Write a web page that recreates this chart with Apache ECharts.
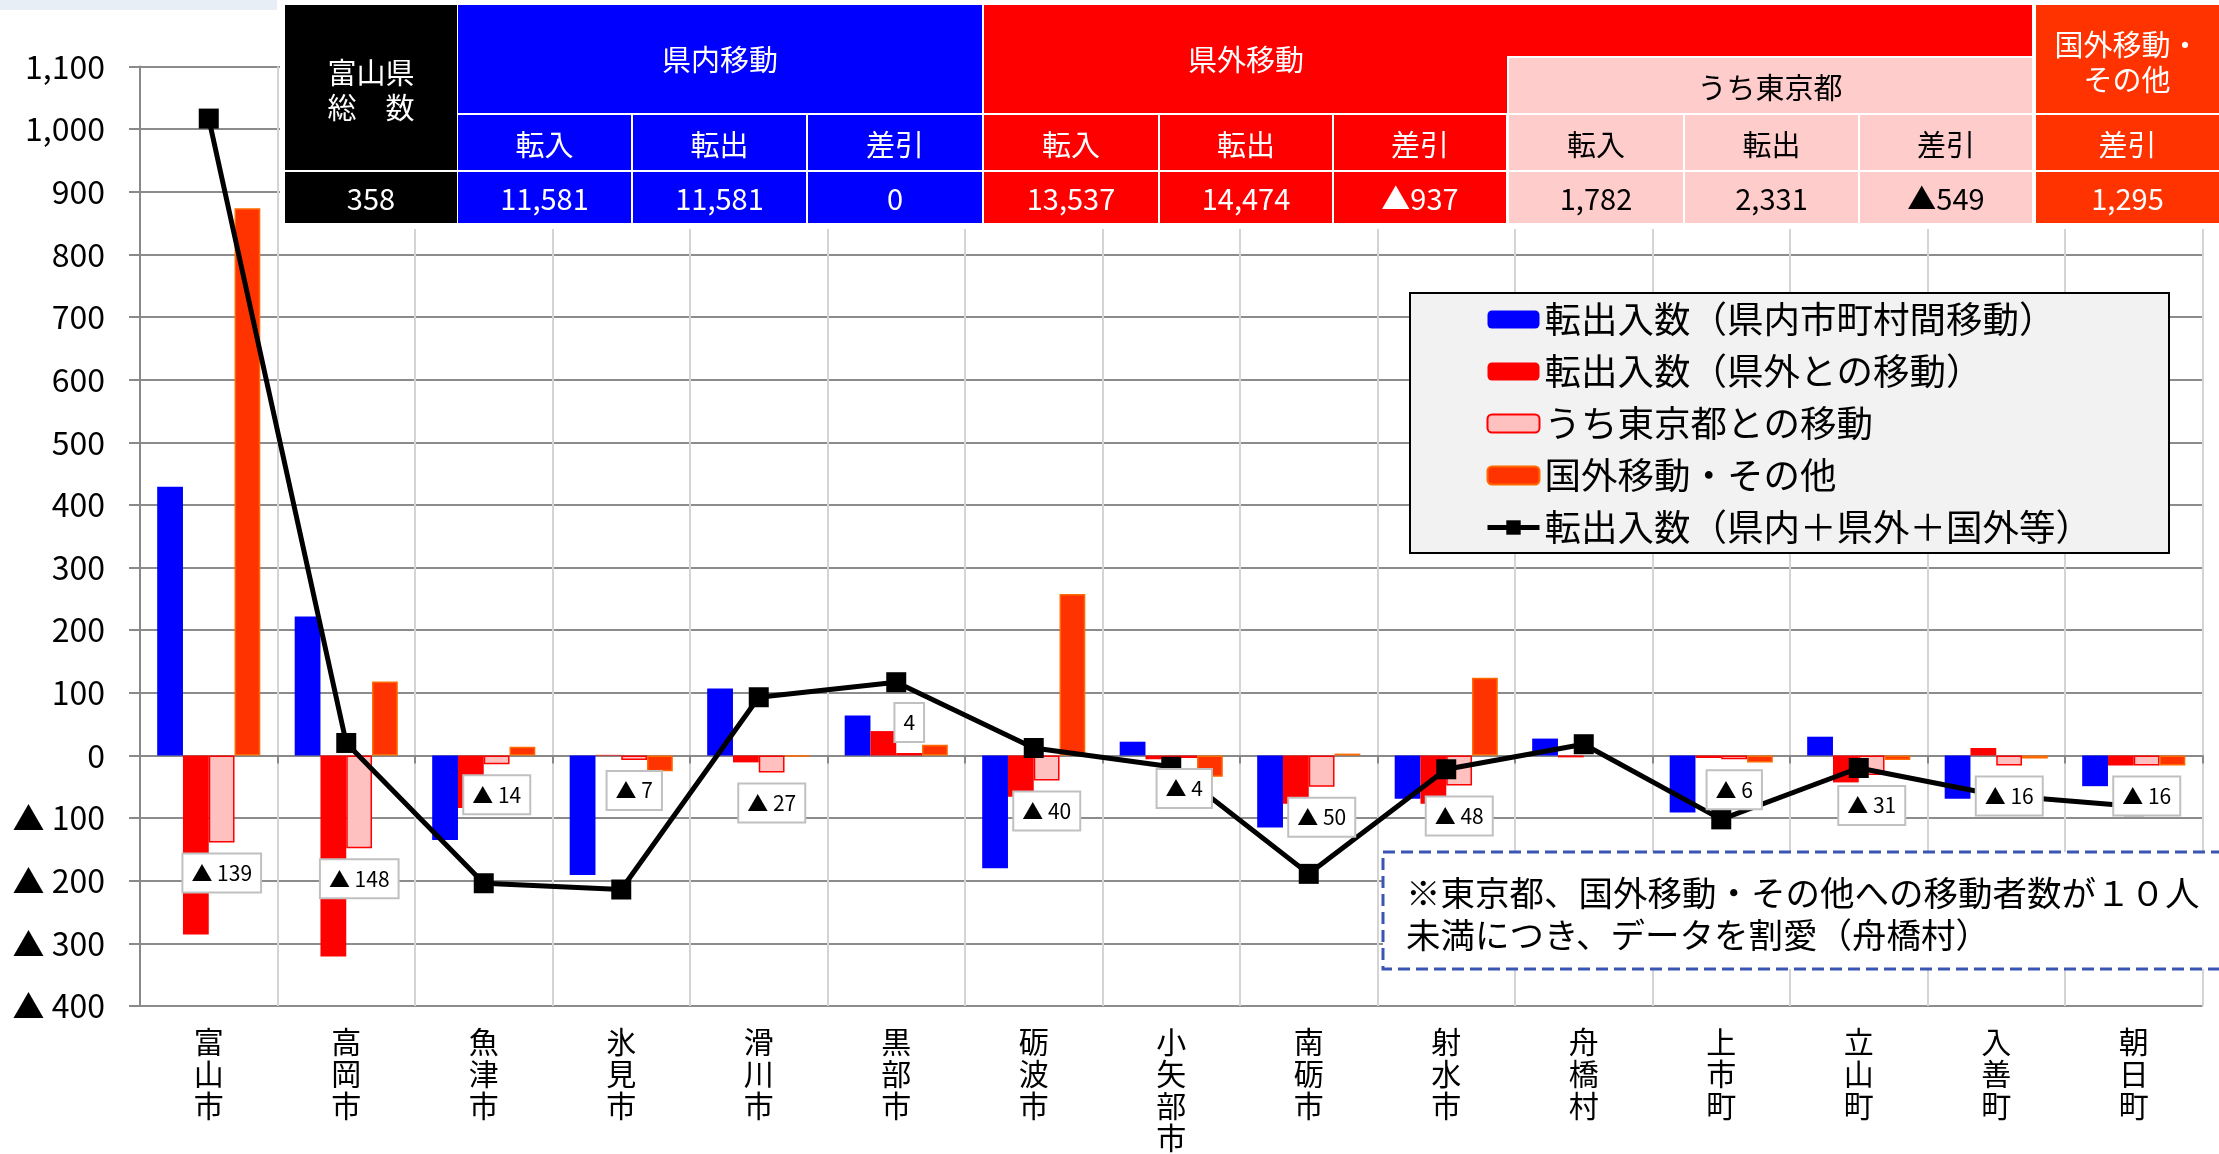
<!DOCTYPE html>
<html>
<head>
<meta charset="utf-8">
<script src="https://cdn.jsdelivr.net/npm/echarts@6/dist/echarts.min.js"></script>
<style>
  html, body { margin: 0; padding: 0; background: #fff; }
  #chart { width: 2219px; height: 1154px; }
</style>
</head>
<body>
<div id="chart"></div>
<script>
// 市町村
let cityNames = ['富山市', '高岡市', '魚津市', '氷見市', '滑川市', '黒部市', '砺波市', '小矢部市',
  '南砺市', '射水市', '舟橋村', '上市町', '立山町', '入善町', '朝日町']
// 転出入数（県内市町村間移動）
let inPref = [429, 222, -135, -191, 107, 64, -180, 22, -115, -69, 27, -91, 30, -69, -49]
// 転出入数（県外との移動）
let outPref = [-286, -321, -84, 1, -11, 39, -66, -6, -77, -77, -3, -4, -43, 12, -16]
// うち東京都との移動（舟橋村は割愛）
let tokyo = [-139, -148, -14, -7, -27, 4, -40, -4, -50, -48, null, -6, -31, -16, -16]
// 国外移動・その他（舟橋村は割愛）
let abroad = [874, 118, 14, -25, -2, 17, 258, -34, 3, 124, null, -11, -7, -5, -16]
// 転出入数（県内＋県外＋国外等）
let total = [1017, 20, -204, -214, 93, 117, 12, -18, -189, -22, 18, -102, -20, -63, -81]

// 上の表
let tableSubHeads = ['転入', '転出', '差引', '転入', '転出', '差引', '転入', '転出', '差引', '差引']
let tableValues = ['358', '11,581', '11,581', '0', '13,537', '14,474', '▲937', '1,782', '2,331', '▲549', '1,295']

let seriesNames = ['転出入数（県内市町村間移動）', '転出入数（県外との移動）', 'うち東京都との移動',
  '国外移動・その他', '転出入数（県内＋県外＋国外等）']
let noteText = '※東京都、国外移動・その他への移動者数が１０人\n未満につき、データを割愛（舟橋村）'

const FONT = '"Noto Sans CJK JP", "Noto Sans", sans-serif'
let myChart = echarts.init(document.getElementById('chart'))

function fmtTri(v) {
  if (v < 0) return '▲ ' + (-v)
  return v.toLocaleString('en-US')
}

// 表のセル
function rect(x, y, w, h, fill, z) {
  return { type: 'rect', z: z || 20, silent: true, shape: { x: x, y: y, width: w, height: h }, style: { fill: fill } }
}
function txt(x, y, s, color, size, lh, align) {
  return {
    type: 'text', z: 22, silent: true, x: x, y: y,
    style: {
      text: s, fill: color, font: size + 'px ' + FONT, lineHeight: lh || size,
      align: align || 'center', verticalAlign: 'middle',
      textAlign: align || 'center', textVerticalAlign: 'middle'
    }
  }
}

function buildTable() {
  let colX = [285, 458, 633, 808, 984, 1160, 1334, 1509, 1685, 1860, 2036]
  let colW = [172, 173, 173, 174, 174, 172, 172, 174, 173, 172, 183]
  let fill = ['#000000', '#0000ff', '#0000ff', '#0000ff', '#ff0000', '#ff0000', '#ff0000',
    '#ffcccc', '#ffcccc', '#ffcccc', '#ff3300']
  let g = []
  g.push(rect(280, 0, 1939, 229, '#ffffff', 19))
  // 見出し
  g.push(rect(285, 5, 172, 165, '#000000'))
  g.push(txt(371, 90, '富山県\n総　数', '#fff', 29, 35))
  g.push(rect(458, 5, 524, 108, '#0000ff'))
  g.push(txt(720, 60, '県内移動', '#fff', 29))
  g.push(rect(984, 5, 1048, 108, '#ff0000'))
  g.push(txt(1246, 60, '県外移動', '#fff', 29))
  g.push(rect(1507, 56, 527, 59, '#ffffff', 21))
  g.push(rect(1509, 58, 523, 55, '#ffcccc', 21))
  g.push(txt(1770, 88, 'うち東京都', '#000', 29))
  g.push(rect(2036, 5, 183, 108, '#ff3300'))
  g.push(txt(2127, 62, '国外移動・\nその他', '#fff', 29, 35))
  for (let i = 1; i < colX.length; i++) {
    g.push(rect(colX[i], 115, colW[i], 55, fill[i]))
    g.push(txt(colX[i] + colW[i] / 2, 145, tableSubHeads[i - 1], i >= 7 && i <= 9 ? '#000' : '#fff', 29))
  }
  for (let i = 0; i < colX.length; i++) {
    g.push(rect(colX[i], 172, colW[i], 51, fill[i]))
    g.push(txt(colX[i] + colW[i] / 2, 199, tableValues[i], i >= 7 && i <= 9 ? '#000' : '#fff', 29))
  }
  return g
}

let graphics = [
  rect(0, 0, 277, 10, '#e8eef6', 1),
  // 凡例の枠
  { type: 'rect', z: 3, silent: true, shape: { x: 1410, y: 293, width: 759, height: 260 },
    style: { fill: '#f2f2f2', stroke: '#000', lineWidth: 2 } },
  // 注記
  { type: 'rect', z: 3, silent: true, shape: { x: 1383, y: 852, width: 900, height: 117 },
    style: { fill: '#fff', stroke: '#3b55b5', lineWidth: 3, lineDash: [12, 6] } },
  txt(1406, 914, noteText, '#000', 34.5, 42, 'left')
].concat(buildTable())

let option = {
  animation: false,
  textStyle: { fontFamily: FONT },
  grid: { left: 140, top: 66.6, width: 2062.5, height: 943.5 },
  legend: {
    left: 1485, top: 301, orient: 'vertical', padding: 0, z: 4,
    itemWidth: 52, itemHeight: 18, itemGap: 15,
    textStyle: { fontSize: 36.5, lineHeight: 37, color: '#000', fontFamily: FONT },
    data: seriesNames.slice(0, 4).concat([{ name: seriesNames[4], lineStyle: { width: 5 } }])
  },
  xAxis: [
    {
      type: 'category', data: cityNames, position: 'bottom',
      axisLine: { onZero: true, lineStyle: { color: '#898989', width: 2 } },
      axisTick: { show: true, length: 8, interval: 0, lineStyle: { color: '#898989', width: 2 } },
      axisLabel: { show: false },
      splitLine: { show: true, interval: 0, lineStyle: { color: '#d4d4d4', width: 2 } }
    },
    {
      type: 'category', data: cityNames, position: 'bottom',
      axisLine: { show: false, onZero: false },
      axisTick: { show: false },
      splitLine: { show: false },
      axisLabel: {
        interval: 0, margin: 20, fontSize: 30, lineHeight: 32, color: '#000', fontFamily: FONT,
        formatter: s => s.split('').join('\n')
      }
    }
  ],
  yAxis: {
    type: 'value', min: -400, max: 1100, interval: 100,
    axisLine: { show: true, lineStyle: { color: '#898989', width: 2 } },
    axisTick: { show: true, length: 11, lineStyle: { color: '#898989', width: 2 } },
    axisLabel: { margin: 35, fontSize: 32, color: '#000', fontFamily: FONT, formatter: fmtTri },
    splitLine: { lineStyle: { color: '#8c8c8c', width: 2 } }
  },
  series: [
    { name: seriesNames[0], type: 'bar', data: inPref, barGap: '0%', barCategoryGap: '25%',
      itemStyle: { color: '#0000ff' } },
    { name: seriesNames[1], type: 'bar', data: outPref, itemStyle: { color: '#ff0000' } },
    { name: seriesNames[2], type: 'bar', data: tokyo,
      itemStyle: { color: '#ffc0c0', borderColor: '#ff0000', borderWidth: 1.5 } },
    { name: seriesNames[3], type: 'bar', data: abroad,
      itemStyle: { color: '#ff3300', borderColor: '#ff6a00', borderWidth: 1.5 } },
    { name: seriesNames[4], type: 'line', data: total, z: 5,
      symbol: 'rect', symbolSize: 20,
      lineStyle: { color: '#000', width: 5 }, itemStyle: { color: '#000' } },
    // 東京都の値ラベル（線より手前に出すため別レイヤー）
    {
      type: 'scatter', zlevel: 1, z: 10, silent: true, symbolSize: 0,
      itemStyle: { opacity: 1 },
      data: tokyo.map(v => v == null ? null : { value: v, label: { position: v < 0 ? 'bottom' : 'top' } }),
      label: {
        show: true, distance: 12, offset: [13, 0],
        formatter: p => fmtTri(p.value),
        fontSize: 21, color: '#000', fontFamily: FONT,
        backgroundColor: '#fff', borderColor: '#c0c0c0', borderWidth: 2, padding: [8, 8]
      }
    }
  ],
  graphic: graphics
}
myChart.setOption(option)
</script>
</body>
</html>
